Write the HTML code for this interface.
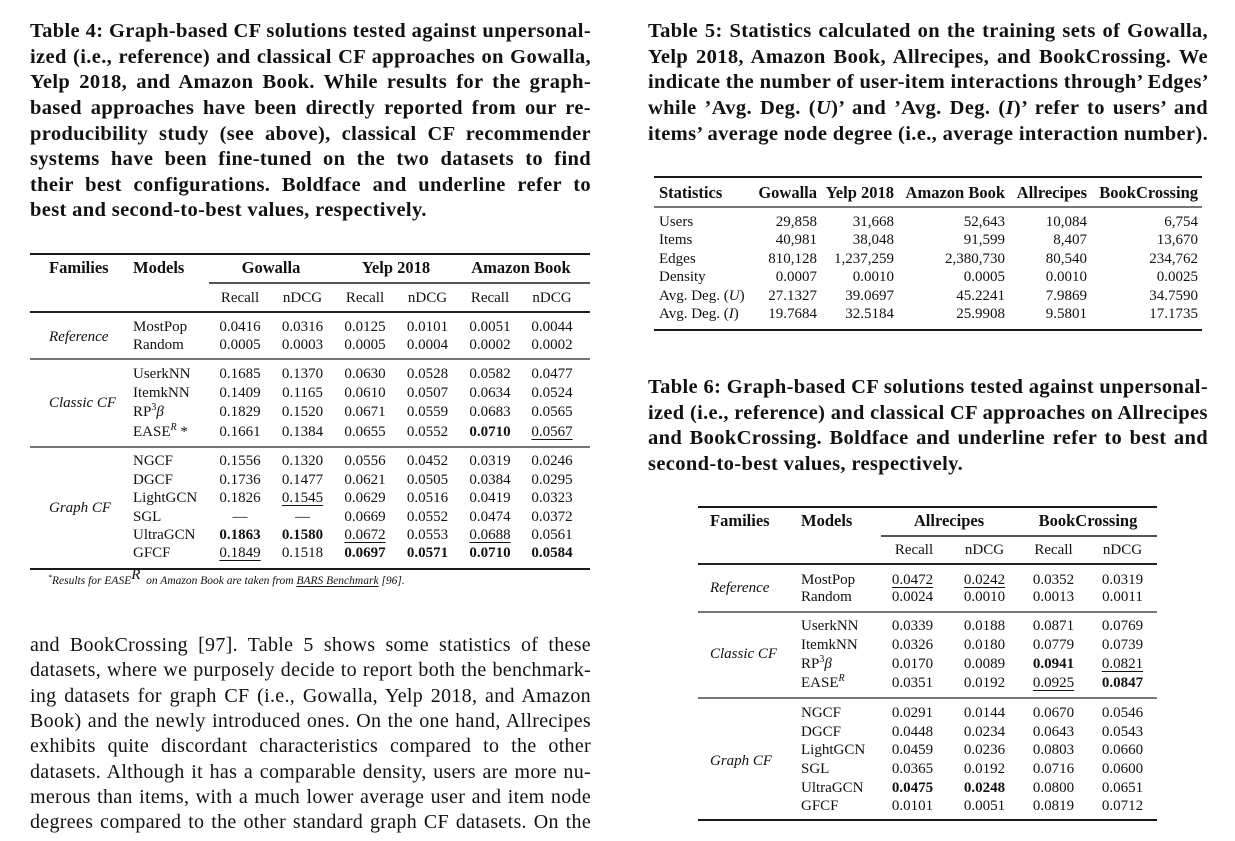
<!DOCTYPE html>
<html><head><meta charset="utf-8">
<style>
body{margin:0;width:1235px;height:841px;position:relative;background:#fff;color:#111;font-family:"Liberation Serif",serif;overflow:hidden}
.cap{position:absolute;font-weight:bold;font-size:20.5px;line-height:25.6px;letter-spacing:0.35px}
.par{position:absolute;font-size:20px;line-height:25.3px;letter-spacing:0.3px}
.cap div,.par div{white-space:nowrap;text-align:justify;text-align-last:justify;overflow:visible}
.cap div.l{text-align:left;text-align-last:left}
.row{position:absolute;left:0;top:0;width:1235px;height:18px;font-size:15px;line-height:18px}
.row span{position:absolute;white-space:nowrap;top:0}
.row span.c{width:80px;margin-left:-40px;text-align:center}
.row span.rr{width:140px;margin-left:-140px;text-align:right}
.h{font-weight:bold;font-size:16.5px}
.b{font-weight:bold}
.u{text-decoration:underline;text-decoration-thickness:1px;text-underline-offset:3px}
.i{font-style:italic}
.rule{position:absolute;height:2px;background:#1a1a1a}
.mid{position:absolute;height:2px;background:#777}
sup{font-size:10px;line-height:0;vertical-align:6px}
</style></head><body>

<!-- Table 4 caption -->
<div class="cap" style="left:30px;top:19.3px;width:561px">
<div>Table 4: Graph-based CF solutions tested against unpersonal-</div>
<div>ized (i.e., reference) and classical CF approaches on Gowalla,</div>
<div>Yelp 2018, and Amazon Book. While results for the graph-</div>
<div>based approaches have been directly reported from our re-</div>
<div>producibility study (see above), classical CF recommender</div>
<div>systems have been fine-tuned on the two datasets to find</div>
<div>their best configurations. Boldface and underline refer to</div>
<div class="l">best and second-to-best values, respectively.</div>
</div>

<!-- Table 5 caption -->
<div class="cap" style="left:648px;top:19.3px;width:560px">
<div>Table 5: Statistics calculated on the training sets of Gowalla,</div>
<div>Yelp 2018, Amazon Book, Allrecipes, and BookCrossing. We</div>
<div>indicate the number of user-item interactions through’ Edges’</div>
<div>while ’Avg. Deg. (<i>U</i>)’ and ’Avg. Deg. (<i>I</i>)’ refer to users’ and</div>
<div>items’ average node degree (i.e., average interaction number).</div>
</div>

<!-- Table 6 caption -->
<div class="cap" style="left:648px;top:375.3px;width:560px">
<div>Table 6: Graph-based CF solutions tested against unpersonal-</div>
<div>ized (i.e., reference) and classical CF approaches on Allrecipes</div>
<div>and BookCrossing. Boldface and underline refer to best and</div>
<div class="l">second-to-best values, respectively.</div>
</div>

<!-- Paragraph -->
<div class="par" style="left:30px;top:633.1px;width:561px">
<div>and BookCrossing [97]. Table 5 shows some statistics of these</div>
<div>datasets, where we purposely decide to report both the benchmark-</div>
<div>ing datasets for graph CF (i.e., Gowalla, Yelp 2018, and Amazon</div>
<div>Book) and the newly introduced ones. On the one hand, Allrecipes</div>
<div>exhibits quite discordant characteristics compared to the other</div>
<div>datasets. Although it has a comparable density, users are more nu-</div>
<div>merous than items, with a much lower average user and item node</div>
<div>degrees compared to the other standard graph CF datasets. On the</div>
</div>

<!-- ================= TABLE 4 ================= -->
<div class="rule" style="left:30px;top:253px;width:560px"></div>
<div class="row" style="top:259px">
<span class="h" style="left:49px">Families</span>
<span class="h" style="left:133px">Models</span>
<span class="h c" style="left:271px;width:120px;margin-left:-60px">Gowalla</span>
<span class="h c" style="left:396px;width:120px;margin-left:-60px">Yelp 2018</span>
<span class="h c" style="left:521px;width:120px;margin-left:-60px">Amazon Book</span>
</div>
<div class="mid" style="left:209px;top:282px;width:381px;background:#555;height:1.5px"></div>
<div class="row" style="top:289px">
<span class="c" style="left:240px">Recall</span><span class="c" style="left:302.5px">nDCG</span>
<span class="c" style="left:365px">Recall</span><span class="c" style="left:427.5px">nDCG</span>
<span class="c" style="left:490px">Recall</span><span class="c" style="left:552px">nDCG</span>
</div>
<div class="mid" style="left:30px;top:311px;width:560px;background:#222;height:1.5px"></div>

<div class="row" style="top:328px"><span class="i" style="left:49px">Reference</span></div>
<div class="row" style="top:318px"><span style="left:133px">MostPop</span>
<span class="c" style="left:240px">0.0416</span><span class="c" style="left:302.5px">0.0316</span><span class="c" style="left:365px">0.0125</span><span class="c" style="left:427.5px">0.0101</span><span class="c" style="left:490px">0.0051</span><span class="c" style="left:552px">0.0044</span></div>
<div class="row" style="top:336px"><span style="left:133px">Random</span>
<span class="c" style="left:240px">0.0005</span><span class="c" style="left:302.5px">0.0003</span><span class="c" style="left:365px">0.0005</span><span class="c" style="left:427.5px">0.0004</span><span class="c" style="left:490px">0.0002</span><span class="c" style="left:552px">0.0002</span></div>
<div class="mid" style="left:30px;top:358px;width:560px"></div>

<div class="row" style="top:394px"><span class="i" style="left:49px">Classic CF</span></div>
<div class="row" style="top:365px"><span style="left:133px">UserkNN</span>
<span class="c" style="left:240px">0.1685</span><span class="c" style="left:302.5px">0.1370</span><span class="c" style="left:365px">0.0630</span><span class="c" style="left:427.5px">0.0528</span><span class="c" style="left:490px">0.0582</span><span class="c" style="left:552px">0.0477</span></div>
<div class="row" style="top:384px"><span style="left:133px">ItemkNN</span>
<span class="c" style="left:240px">0.1409</span><span class="c" style="left:302.5px">0.1165</span><span class="c" style="left:365px">0.0610</span><span class="c" style="left:427.5px">0.0507</span><span class="c" style="left:490px">0.0634</span><span class="c" style="left:552px">0.0524</span></div>
<div class="row" style="top:403px"><span style="left:133px">RP<sup>3</sup><i>β</i></span>
<span class="c" style="left:240px">0.1829</span><span class="c" style="left:302.5px">0.1520</span><span class="c" style="left:365px">0.0671</span><span class="c" style="left:427.5px">0.0559</span><span class="c" style="left:490px">0.0683</span><span class="c" style="left:552px">0.0565</span></div>
<div class="row" style="top:423px"><span style="left:133px">EASE<sup><i>R</i></sup> *</span>
<span class="c" style="left:240px">0.1661</span><span class="c" style="left:302.5px">0.1384</span><span class="c" style="left:365px">0.0655</span><span class="c" style="left:427.5px">0.0552</span><span class="c b" style="left:490px">0.0710</span><span class="c" style="left:552px"><span class="u" style="position:static">0.0567</span></span></div>
<div class="mid" style="left:30px;top:446px;width:560px"></div>

<div class="row" style="top:499px"><span class="i" style="left:49px">Graph CF</span></div>
<div class="row" style="top:452px"><span style="left:133px">NGCF</span>
<span class="c" style="left:240px">0.1556</span><span class="c" style="left:302.5px">0.1320</span><span class="c" style="left:365px">0.0556</span><span class="c" style="left:427.5px">0.0452</span><span class="c" style="left:490px">0.0319</span><span class="c" style="left:552px">0.0246</span></div>
<div class="row" style="top:471px"><span style="left:133px">DGCF</span>
<span class="c" style="left:240px">0.1736</span><span class="c" style="left:302.5px">0.1477</span><span class="c" style="left:365px">0.0621</span><span class="c" style="left:427.5px">0.0505</span><span class="c" style="left:490px">0.0384</span><span class="c" style="left:552px">0.0295</span></div>
<div class="row" style="top:489px"><span style="left:133px">LightGCN</span>
<span class="c" style="left:240px">0.1826</span><span class="c" style="left:302.5px"><span class="u" style="position:static">0.1545</span></span><span class="c" style="left:365px">0.0629</span><span class="c" style="left:427.5px">0.0516</span><span class="c" style="left:490px">0.0419</span><span class="c" style="left:552px">0.0323</span></div>
<div class="row" style="top:508px"><span style="left:133px">SGL</span>
<span class="c" style="left:240px">—</span><span class="c" style="left:302.5px">—</span><span class="c" style="left:365px">0.0669</span><span class="c" style="left:427.5px">0.0552</span><span class="c" style="left:490px">0.0474</span><span class="c" style="left:552px">0.0372</span></div>
<div class="row" style="top:526px"><span style="left:133px">UltraGCN</span>
<span class="c b" style="left:240px">0.1863</span><span class="c b" style="left:302.5px">0.1580</span><span class="c" style="left:365px"><span class="u" style="position:static">0.0672</span></span><span class="c" style="left:427.5px">0.0553</span><span class="c" style="left:490px"><span class="u" style="position:static">0.0688</span></span><span class="c" style="left:552px">0.0561</span></div>
<div class="row" style="top:544px"><span style="left:133px">GFCF</span>
<span class="c" style="left:240px"><span class="u" style="position:static">0.1849</span></span><span class="c" style="left:302.5px">0.1518</span><span class="c b" style="left:365px">0.0697</span><span class="c b" style="left:427.5px">0.0571</span><span class="c b" style="left:490px">0.0710</span><span class="c b" style="left:552px">0.0584</span></div>
<div class="rule" style="left:30px;top:568px;width:560px"></div>
<div style="position:absolute;left:48px;top:572px;font-size:11.5px;line-height:16px;font-style:italic;white-space:nowrap"><sup style="font-size:8px;vertical-align:4px">*</sup>Results for EASE<span style="font-size:15px;position:relative;top:-5px">R</span> &nbsp;on Amazon Book are taken from <span class="u" style="text-underline-offset:2px">BARS Benchmark</span> [96].</div>

<!-- ================= TABLE 5 ================= -->
<div class="rule" style="left:654px;top:176px;width:548px"></div>
<div class="row" style="top:184px">
<span class="h" style="left:659px">Statistics</span>
<span class="h rr" style="left:817px">Gowalla</span>
<span class="h rr" style="left:894px">Yelp 2018</span>
<span class="h rr" style="left:1005px">Amazon Book</span>
<span class="h rr" style="left:1087px">Allrecipes</span>
<span class="h rr" style="left:1198px">BookCrossing</span>
</div>
<div class="mid" style="left:654px;top:206px;width:548px"></div>
<div class="row" style="top:213px"><span style="left:659px">Users</span><span class="rr" style="left:817px">29,858</span><span class="rr" style="left:894px">31,668</span><span class="rr" style="left:1005px">52,643</span><span class="rr" style="left:1087px">10,084</span><span class="rr" style="left:1198px">6,754</span></div>
<div class="row" style="top:231px"><span style="left:659px">Items</span><span class="rr" style="left:817px">40,981</span><span class="rr" style="left:894px">38,048</span><span class="rr" style="left:1005px">91,599</span><span class="rr" style="left:1087px">8,407</span><span class="rr" style="left:1198px">13,670</span></div>
<div class="row" style="top:250px"><span style="left:659px">Edges</span><span class="rr" style="left:817px">810,128</span><span class="rr" style="left:894px">1,237,259</span><span class="rr" style="left:1005px">2,380,730</span><span class="rr" style="left:1087px">80,540</span><span class="rr" style="left:1198px">234,762</span></div>
<div class="row" style="top:268px"><span style="left:659px">Density</span><span class="rr" style="left:817px">0.0007</span><span class="rr" style="left:894px">0.0010</span><span class="rr" style="left:1005px">0.0005</span><span class="rr" style="left:1087px">0.0010</span><span class="rr" style="left:1198px">0.0025</span></div>
<div class="row" style="top:287px"><span style="left:659px">Avg. Deg. (<i>U</i>)</span><span class="rr" style="left:817px">27.1327</span><span class="rr" style="left:894px">39.0697</span><span class="rr" style="left:1005px">45.2241</span><span class="rr" style="left:1087px">7.9869</span><span class="rr" style="left:1198px">34.7590</span></div>
<div class="row" style="top:305px"><span style="left:659px">Avg. Deg. (<i>I</i>)</span><span class="rr" style="left:817px">19.7684</span><span class="rr" style="left:894px">32.5184</span><span class="rr" style="left:1005px">25.9908</span><span class="rr" style="left:1087px">9.5801</span><span class="rr" style="left:1198px">17.1735</span></div>
<div class="rule" style="left:654px;top:329px;width:548px"></div>

<!-- ================= TABLE 6 ================= -->
<div class="rule" style="left:698px;top:506px;width:459px"></div>
<div class="row" style="top:512px">
<span class="h" style="left:710px">Families</span>
<span class="h" style="left:801px">Models</span>
<span class="h c" style="left:949px;width:130px;margin-left:-65px">Allrecipes</span>
<span class="h c" style="left:1088px;width:130px;margin-left:-65px">BookCrossing</span>
</div>
<div class="mid" style="left:881px;top:535px;width:276px;background:#555;height:1.5px"></div>
<div class="row" style="top:541px">
<span class="c" style="left:914px">Recall</span><span class="c" style="left:984.5px">nDCG</span>
<span class="c" style="left:1053.5px">Recall</span><span class="c" style="left:1122.5px">nDCG</span>
</div>
<div class="mid" style="left:698px;top:563px;width:459px;background:#222;height:1.5px"></div>

<div class="row" style="top:579px"><span class="i" style="left:710px">Reference</span></div>
<div class="row" style="top:571px"><span style="left:801px">MostPop</span>
<span class="c" style="left:912.5px"><span class="u" style="position:static">0.0472</span></span><span class="c" style="left:984.5px"><span class="u" style="position:static">0.0242</span></span><span class="c" style="left:1053.5px">0.0352</span><span class="c" style="left:1122.5px">0.0319</span></div>
<div class="row" style="top:588px"><span style="left:801px">Random</span>
<span class="c" style="left:912.5px">0.0024</span><span class="c" style="left:984.5px">0.0010</span><span class="c" style="left:1053.5px">0.0013</span><span class="c" style="left:1122.5px">0.0011</span></div>
<div class="mid" style="left:698px;top:611px;width:459px"></div>

<div class="row" style="top:645px"><span class="i" style="left:710px">Classic CF</span></div>
<div class="row" style="top:617px"><span style="left:801px">UserkNN</span>
<span class="c" style="left:912.5px">0.0339</span><span class="c" style="left:984.5px">0.0188</span><span class="c" style="left:1053.5px">0.0871</span><span class="c" style="left:1122.5px">0.0769</span></div>
<div class="row" style="top:636px"><span style="left:801px">ItemkNN</span>
<span class="c" style="left:912.5px">0.0326</span><span class="c" style="left:984.5px">0.0180</span><span class="c" style="left:1053.5px">0.0779</span><span class="c" style="left:1122.5px">0.0739</span></div>
<div class="row" style="top:655px"><span style="left:801px">RP<sup>3</sup><i>β</i></span>
<span class="c" style="left:912.5px">0.0170</span><span class="c" style="left:984.5px">0.0089</span><span class="c b" style="left:1053.5px">0.0941</span><span class="c" style="left:1122.5px"><span class="u" style="position:static">0.0821</span></span></div>
<div class="row" style="top:674px"><span style="left:801px">EASE<sup><i>R</i></sup></span>
<span class="c" style="left:912.5px">0.0351</span><span class="c" style="left:984.5px">0.0192</span><span class="c" style="left:1053.5px"><span class="u" style="position:static">0.0925</span></span><span class="c b" style="left:1122.5px">0.0847</span></div>
<div class="mid" style="left:698px;top:697px;width:459px"></div>

<div class="row" style="top:752px"><span class="i" style="left:710px">Graph CF</span></div>
<div class="row" style="top:704px"><span style="left:801px">NGCF</span>
<span class="c" style="left:912.5px">0.0291</span><span class="c" style="left:984.5px">0.0144</span><span class="c" style="left:1053.5px">0.0670</span><span class="c" style="left:1122.5px">0.0546</span></div>
<div class="row" style="top:723px"><span style="left:801px">DGCF</span>
<span class="c" style="left:912.5px">0.0448</span><span class="c" style="left:984.5px">0.0234</span><span class="c" style="left:1053.5px">0.0643</span><span class="c" style="left:1122.5px">0.0543</span></div>
<div class="row" style="top:741px"><span style="left:801px">LightGCN</span>
<span class="c" style="left:912.5px">0.0459</span><span class="c" style="left:984.5px">0.0236</span><span class="c" style="left:1053.5px">0.0803</span><span class="c" style="left:1122.5px">0.0660</span></div>
<div class="row" style="top:760px"><span style="left:801px">SGL</span>
<span class="c" style="left:912.5px">0.0365</span><span class="c" style="left:984.5px">0.0192</span><span class="c" style="left:1053.5px">0.0716</span><span class="c" style="left:1122.5px">0.0600</span></div>
<div class="row" style="top:779px"><span style="left:801px">UltraGCN</span>
<span class="c b" style="left:912.5px">0.0475</span><span class="c b" style="left:984.5px">0.0248</span><span class="c" style="left:1053.5px">0.0800</span><span class="c" style="left:1122.5px">0.0651</span></div>
<div class="row" style="top:797px"><span style="left:801px">GFCF</span>
<span class="c" style="left:912.5px">0.0101</span><span class="c" style="left:984.5px">0.0051</span><span class="c" style="left:1053.5px">0.0819</span><span class="c" style="left:1122.5px">0.0712</span></div>
<div class="rule" style="left:698px;top:819px;width:459px"></div>

<script>
document.querySelectorAll('.cap div,.par div').forEach(function(d){
  var w=d.clientWidth, s=d.scrollWidth;
  if(s>w+1){d.style.transformOrigin='0 0';d.style.transform='scaleX('+(w/s)+')';}
});
</script>
</body></html>
